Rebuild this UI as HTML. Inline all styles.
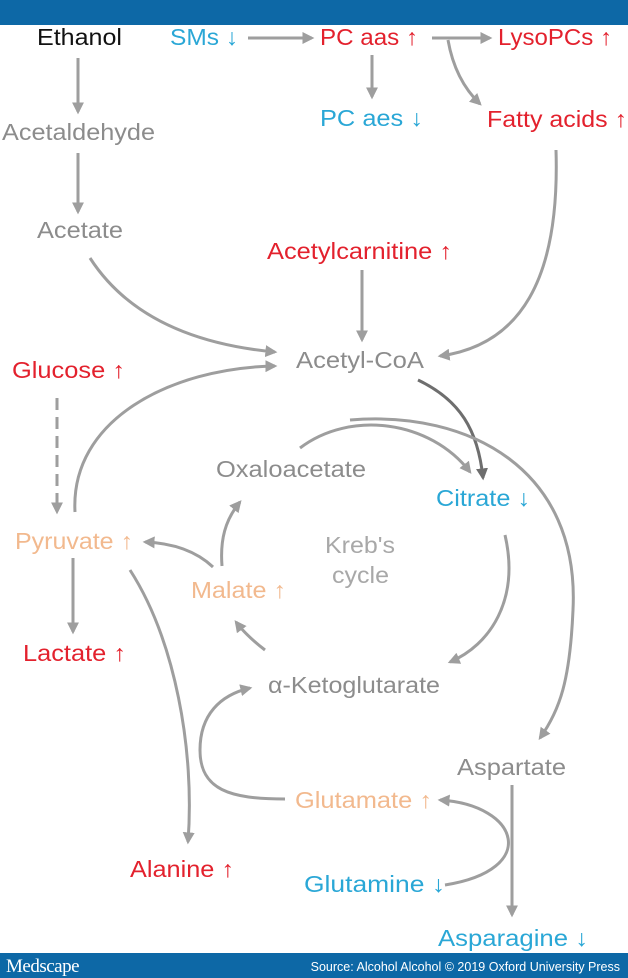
<!DOCTYPE html>
<html><head><meta charset="utf-8"><style>
html,body{margin:0;padding:0;background:#fff;}
svg{display:block;}
text{font-family:"Liberation Sans",Arial,sans-serif;font-size:23px;}
.g{fill:#8c8c8c}.r{fill:#e3212d}.c{fill:#2aa7d6}.o{fill:#f2b98e}.k{fill:#111}
path,line{fill:none;stroke:#9e9e9e;stroke-width:3;}
</style></head><body>
<svg width="628" height="978" viewBox="0 0 628 978" xmlns="http://www.w3.org/2000/svg">
<defs>
<marker id="a" viewBox="0 0 10 10" refX="8" refY="5" markerWidth="4" markerHeight="4" orient="auto"><path d="M0,0 L10,5 L0,10 z" style="fill:#9e9e9e;stroke:none"/></marker>
<marker id="d" viewBox="0 0 10 10" refX="8" refY="5" markerWidth="4" markerHeight="4" orient="auto"><path d="M0,0 L10,5 L0,10 z" style="fill:#6e6e6e;stroke:none"/></marker>
</defs>
<rect x="0" y="0" width="628" height="25" fill="#0d68a6"/>
<rect x="0" y="953" width="628" height="25" fill="#0d68a6"/>
<text x="6" y="972" style="font-family:'Liberation Serif',serif;font-size:19px;fill:#fff;letter-spacing:-0.5px">Medscape</text>
<text x="620" y="971" text-anchor="end" style="font-size:12.5px;fill:#fff">Source: Alcohol Alcohol © 2019 Oxford University Press</text>

<text x="37" y="45" class="k" textLength="85" lengthAdjust="spacingAndGlyphs">Ethanol</text>
<text x="170" y="45" class="c" textLength="68" lengthAdjust="spacingAndGlyphs">SMs ↓</text>
<text x="320" y="45" class="r" textLength="98" lengthAdjust="spacingAndGlyphs">PC aas ↑</text>
<text x="498" y="45" class="r" textLength="114" lengthAdjust="spacingAndGlyphs">LysoPCs ↑</text>
<text x="320" y="126" class="c" textLength="103" lengthAdjust="spacingAndGlyphs">PC aes ↓</text>
<text x="487" y="127" class="r" textLength="140" lengthAdjust="spacingAndGlyphs">Fatty acids ↑</text>
<text x="2" y="140" class="g" textLength="153" lengthAdjust="spacingAndGlyphs">Acetaldehyde</text>
<text x="37" y="238" class="g" textLength="86" lengthAdjust="spacingAndGlyphs">Acetate</text>
<text x="267" y="259" class="r" textLength="185" lengthAdjust="spacingAndGlyphs">Acetylcarnitine ↑</text>
<text x="296" y="368" class="g" textLength="128" lengthAdjust="spacingAndGlyphs">Acetyl-CoA</text>
<text x="12" y="378" class="r" textLength="113" lengthAdjust="spacingAndGlyphs">Glucose ↑</text>
<text x="216" y="477" class="g" textLength="150" lengthAdjust="spacingAndGlyphs">Oxaloacetate</text>
<text x="436" y="506" class="c" textLength="94" lengthAdjust="spacingAndGlyphs">Citrate ↓</text>
<text x="325" y="553" style="fill:#a8a8a8" textLength="70" lengthAdjust="spacingAndGlyphs">Kreb's</text>
<text x="332" y="583" style="fill:#a8a8a8" textLength="57" lengthAdjust="spacingAndGlyphs">cycle</text>
<text x="15" y="549" class="o" textLength="118" lengthAdjust="spacingAndGlyphs">Pyruvate ↑</text>
<text x="191" y="598" class="o" textLength="95" lengthAdjust="spacingAndGlyphs">Malate ↑</text>
<text x="23" y="661" class="r" textLength="103" lengthAdjust="spacingAndGlyphs">Lactate ↑</text>
<text x="268" y="693" class="g" textLength="172" lengthAdjust="spacingAndGlyphs">α-Ketoglutarate</text>
<text x="457" y="775" class="g" textLength="109" lengthAdjust="spacingAndGlyphs">Aspartate</text>
<text x="295" y="808" class="o" textLength="137" lengthAdjust="spacingAndGlyphs">Glutamate ↑</text>
<text x="130" y="877" class="r" textLength="104" lengthAdjust="spacingAndGlyphs">Alanine ↑</text>
<text x="304" y="892" class="c" textLength="141" lengthAdjust="spacingAndGlyphs">Glutamine ↓</text>
<text x="438" y="946" class="c" textLength="150" lengthAdjust="spacingAndGlyphs">Asparagine ↓</text>

<line x1="78" y1="58" x2="78" y2="112" marker-end="url(#a)"/>
<line x1="78" y1="153" x2="78" y2="212" marker-end="url(#a)"/>
<line x1="248" y1="38" x2="312" y2="38" marker-end="url(#a)"/>
<line x1="432" y1="38" x2="490" y2="38" marker-end="url(#a)"/>
<line x1="372" y1="55" x2="372" y2="97" marker-end="url(#a)"/>
<path d="M448,40 Q455,80 480,104" marker-end="url(#a)"/>
<path d="M556,150 C560,280 520,345 440,356" marker-end="url(#a)"/>
<path d="M90,258 C130,320 200,345 275,352" marker-end="url(#a)"/>
<line x1="362" y1="270" x2="362" y2="340" marker-end="url(#a)"/>
<line x1="57" y1="398" x2="57" y2="512" stroke-dasharray="12,7" marker-end="url(#a)"/>
<path d="M75,512 C70,420 170,368 275,366" marker-end="url(#a)"/>
<path d="M418,380 C460,400 478,430 483,478" style="stroke:#6e6e6e" marker-end="url(#d)"/>
<path d="M300,448 C350,410 430,420 470,472" marker-end="url(#a)"/>
<path d="M350,420 C470,410 580,470 573,610 C570,680 560,710 540,738" marker-end="url(#a)"/>
<path d="M505,535 C520,600 490,645 450,662" marker-end="url(#a)"/>
<path d="M265,650 C252,640 242,630 236,622" marker-end="url(#a)"/>
<path d="M222,566 C220,540 225,520 240,502" marker-end="url(#a)"/>
<path d="M213,567 C195,550 170,543 145,542" marker-end="url(#a)"/>
<line x1="73" y1="558" x2="73" y2="632" marker-end="url(#a)"/>
<path d="M130,570 C175,640 195,750 188,842" marker-end="url(#a)"/>
<path d="M285,799 C230,799 200,790 200,750 C200,715 220,695 250,688" marker-end="url(#a)"/>
<line x1="512" y1="785" x2="512" y2="915" marker-end="url(#a)"/>
<path d="M445,885 C540,870 520,805 440,800" marker-end="url(#a)"/>
</svg>
</body></html>
